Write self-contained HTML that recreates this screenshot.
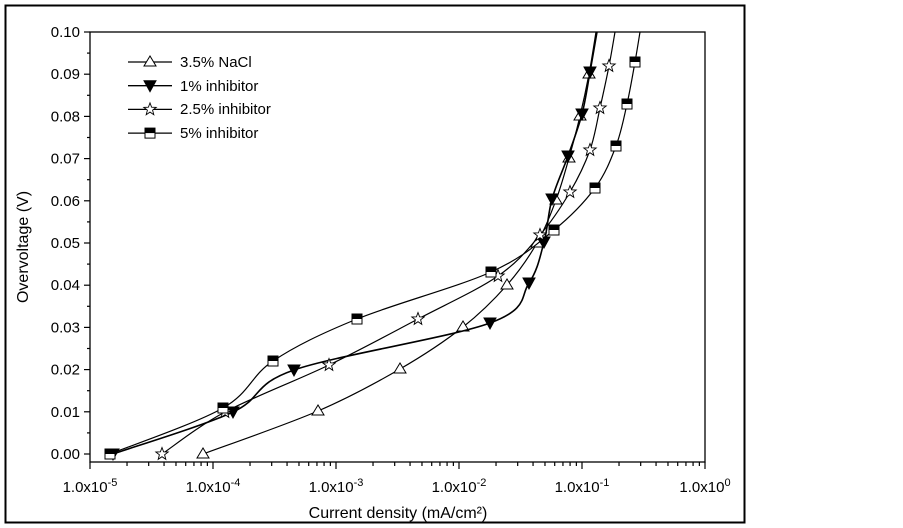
<!DOCTYPE html>
<html><head><meta charset="utf-8"><style>
body{margin:0;background:#fff;}
svg{display:block;font-family:"Liberation Sans",sans-serif;}
</style></head><body>
<svg id="s" width="903" height="528" xmlns="http://www.w3.org/2000/svg">
<rect x="5.5" y="5.5" width="739" height="517" fill="none" stroke="#000" stroke-width="2"/>
<rect x="90" y="32" width="615" height="430" fill="none" stroke="#000" stroke-width="1.3"/>
<g id="ax" stroke="#000" stroke-width="1.2"></g>
<g id="lab" font-size="15" fill="#000"></g>
<text x="398" y="518" font-size="16" text-anchor="middle">Current density (mA/cm²)</text>
<text transform="translate(28,247) rotate(-90)" font-size="16" text-anchor="middle">Overvoltage  (V)</text>
<g id="ser"></g>
<g font-size="15">
<text x="180" y="67">3.5% NaCl</text>
<text x="180" y="91">1% inhibitor</text>
<text x="180" y="114">2.5% inhibitor</text>
<text x="180" y="138">5% inhibitor</text>
</g>
</svg>
<script>
const NS="http://www.w3.org/2000/svg";
function el(p,t,a,txt){const e=document.createElementNS(NS,t);for(const k in a)e.setAttribute(k,a[k]);if(txt!==undefined)e.innerHTML=txt;document.getElementById(p).appendChild(e);return e;}
const X=v=>90+123*(Math.log10(v)+5);
for(let i=0;i<=20;i++){const y=454-i*21.1;const maj=i%2==0;
 el('ax','line',{x1:90,x2:maj?84:87,y1:y,y2:y});
 if(maj)el('lab','text',{x:80,y:y+5,'text-anchor':'end'},(i/20*0.1).toFixed(2));}
for(let d=-5;d<=0;d++){for(let m=1;m<=9;m++){if(d==0&&m>1)break;const x=X(m*Math.pow(10,d));
 el('ax','line',{x1:x,x2:x,y1:462,y2:m==1?469:466});
 if(m==1)el('lab','text',{x:x,y:492,'text-anchor':'middle'},'1.0x10<tspan dy="-6" font-size="11">'+d+'</tspan>');}}
function path(pts){let d='M'+pts[0][0]+','+pts[0][1];
 for(let i=0;i<pts.length-1;i++){const p0=pts[Math.max(0,i-1)],p1=pts[i],p2=pts[i+1],p3=pts[Math.min(pts.length-1,i+2)];
 const c1=[p1[0]+(p2[0]-p0[0])/6,p1[1]+(p2[1]-p0[1])/6],c2=[p2[0]-(p3[0]-p1[0])/6,p2[1]-(p3[1]-p1[1])/6];
 d+=' C'+c1+' '+c2+' '+p2;}return d;}
const S=[
 {t:'tri',p:[[203,454],[318,411],[400,369],[463,327],[507,285],[537,243],[556,200],[569,158],[580,116],[589,74],[596,32]]},
 {t:'inv',p:[[113,454],[233,412],[294,370],[490,323],[529,283],[544,242],[552,199],[568,156],[582,114],[590,72],[597,32]]},
 {t:'star',p:[[162,454],[225,412],[329,365],[418,319],[498,276],[540,235],[570,192],[590,150],[600,108],[609,66],[615,32]]},
 {t:'sq',p:[[110,454],[223,408],[273,361],[357,319],[491,272],[554,230],[595,188],[616,146],[627,104],[635,62],[640,32]]}];
function mark(t,x,y){
 if(t=='tri')el('ser','polygon',{points:`${x},${y-6} ${x-6},${y+4} ${x+6},${y+4}`,fill:'#fff',stroke:'#000'});
 if(t=='inv')el('ser','polygon',{points:`${x-6},${y-5} ${x+6},${y-5} ${x},${y+6}`,fill:'#000',stroke:'#000'});
 if(t=='star'){let s='';for(let i=0;i<10;i++){const r=i%2?2.7:6.5,a=-Math.PI/2+i*Math.PI/5;s+=(x+r*Math.cos(a)).toFixed(1)+','+(y+r*Math.sin(a)).toFixed(1)+' ';}
  el('ser','polygon',{points:s,fill:'#fff',stroke:'#000','stroke-width':0.9});}
 if(t=='sq'){el('ser','rect',{x:x-5,y:y-5,width:10,height:10,fill:'#fff',stroke:'#000'});el('ser','rect',{x:x-5,y:y-5,width:10,height:5,fill:'#000'});}
}
S.forEach((s,i)=>{el('ser','path',{d:path(s.p),fill:'none',stroke:'#000','stroke-width':i==1?1.6:1.2});
 s.p.forEach(p=>{if(p[1]>33)mark(s.t,p[0],p[1]);});
 const ly=62+i*23.7;el('ser','line',{x1:128,x2:172,y1:ly,y2:ly,stroke:'#000','stroke-width':1.3});mark(s.t,150,ly);});
</script>
</body></html>
